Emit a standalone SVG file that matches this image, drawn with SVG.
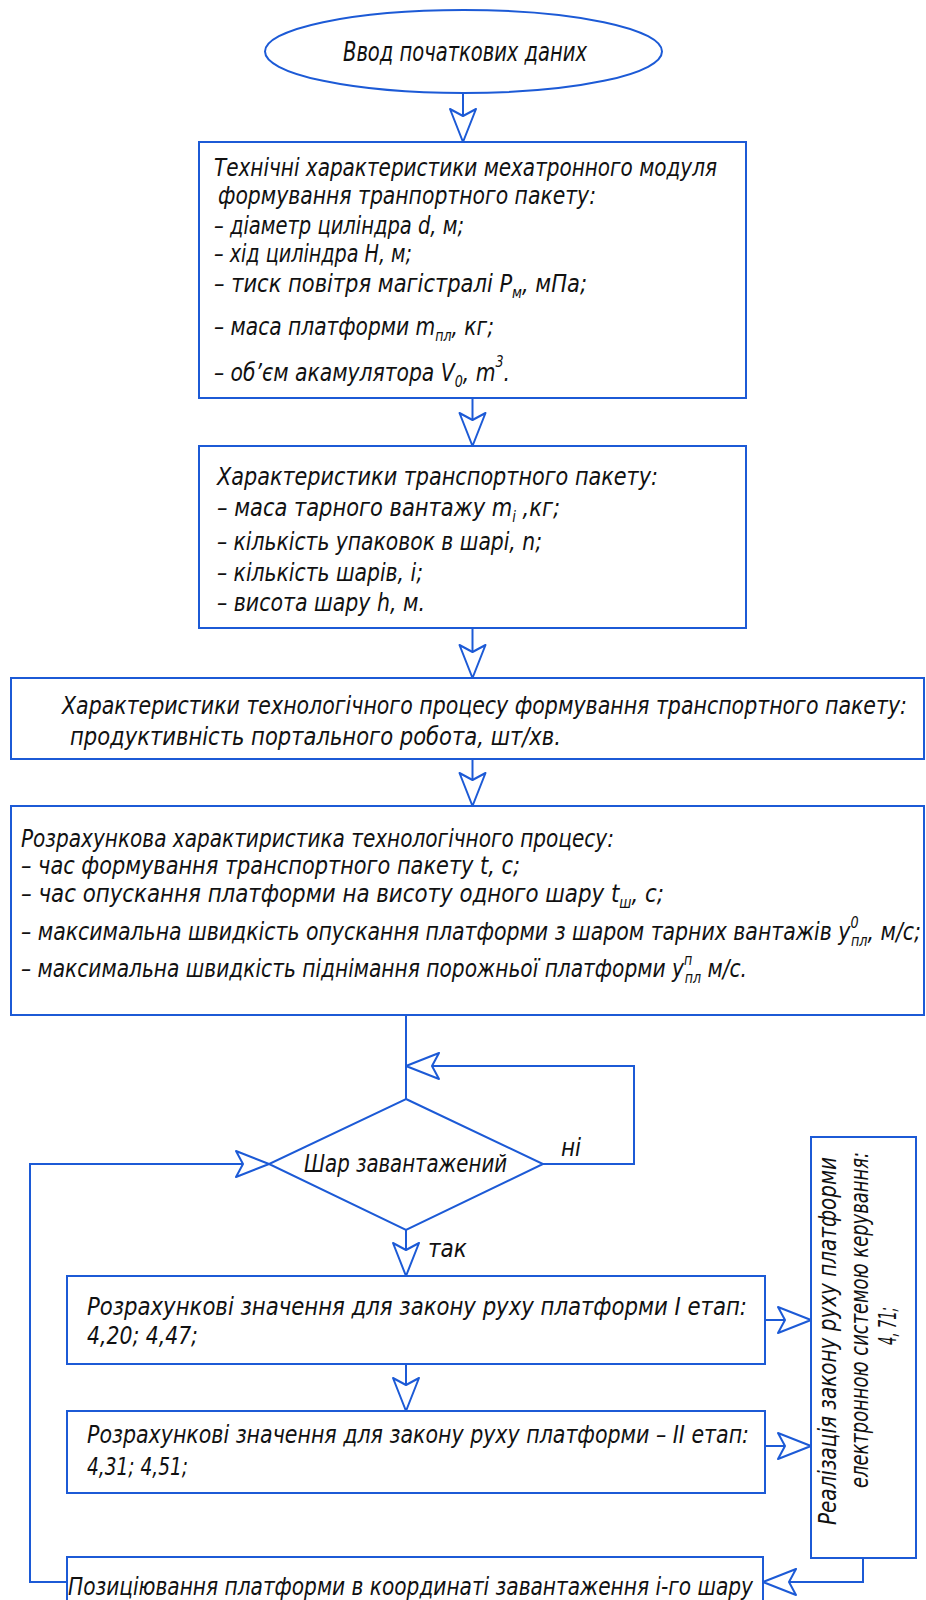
<svg xmlns="http://www.w3.org/2000/svg" width="926" height="1600" viewBox="0 0 926 1600">
  <style>
    .shape { fill: #ffffff; stroke: #1c5ad6; stroke-width: 2; }
    .wire { fill: none; stroke: #1c5ad6; stroke-width: 2; }
    .arrow { fill: none; stroke: #1c5ad6; stroke-width: 2; marker-end: url(#ah); }
    text { font-family: "DejaVu Sans Condensed", "Liberation Sans Narrow", "DejaVu Sans", "Liberation Sans", sans-serif; font-stretch: condensed; font-style: italic; font-size: 24px; fill: #111111; }
    .big { font-size: 26px; }
    .sm { font-size: 15px; }
  </style>
  <defs>
    <marker id="ah" markerUnits="userSpaceOnUse" viewBox="-36 -16 38 32" refX="0" refY="0" markerWidth="38" markerHeight="32" orient="auto">
      <path d="M0,0 L-33,-13 L-26,0 L-33,13 Z" fill="#ffffff" stroke="#1c5ad6" stroke-width="2" stroke-linejoin="round"/>
    </marker>
  </defs>

  <!-- connectors -->
  <g id="connectors">
    <line class="arrow" x1="463" y1="93" x2="463" y2="142"/>
    <line class="arrow" x1="472.5" y1="398" x2="472.5" y2="446"/>
    <line class="arrow" x1="472.5" y1="628" x2="472.5" y2="678"/>
    <line class="arrow" x1="472.5" y1="759" x2="472.5" y2="806"/>
    <line class="wire" x1="406" y1="1015" x2="406" y2="1099"/>
    <polyline class="arrow" points="543,1164 634,1164 634,1066 406,1066"/>
    <polyline class="arrow" points="67,1582 30,1582 30,1164 269,1164"/>
    <line class="arrow" x1="406" y1="1230" x2="406" y2="1276"/>
    <line class="arrow" x1="406" y1="1364" x2="406" y2="1411"/>
    <line class="arrow" x1="765" y1="1320" x2="811" y2="1320"/>
    <line class="arrow" x1="765" y1="1446" x2="811" y2="1446"/>
    <polyline class="arrow" points="863,1558 863,1582 763,1582"/>
  </g>

  <!-- start -->
  <g id="start">
    <ellipse class="shape" cx="463.5" cy="51.5" rx="198.5" ry="41.5"/>
    <text class="big" x="343" y="61" textLength="244" lengthAdjust="spacingAndGlyphs">Ввод початкових даних</text>
  </g>

  <!-- module characteristics -->
  <g id="module">
    <rect class="shape" x="199" y="142" width="547" height="256"/>
    <text x="214" y="176" textLength="503" lengthAdjust="spacingAndGlyphs">Технічні характеристики мехатронного модуля</text>
    <text x="218" y="204" textLength="378" lengthAdjust="spacingAndGlyphs">формування транпортного пакету:</text>
    <text x="214" y="234" textLength="250" lengthAdjust="spacingAndGlyphs">– діаметр циліндра d, м;</text>
    <text x="214" y="262" textLength="198" lengthAdjust="spacingAndGlyphs">– хід циліндра H, м;</text>
    <text x="214" y="292" textLength="373" lengthAdjust="spacingAndGlyphs">– тиск повітря магістралі P<tspan class="sm" dy="6">м</tspan><tspan dy="-6">, мПа;</tspan></text>
    <text x="214" y="335" textLength="280" lengthAdjust="spacingAndGlyphs">– маса платформи m<tspan class="sm" dy="6">пл</tspan><tspan dy="-6">, кг;</tspan></text>
    <text x="214" y="381" textLength="296" lengthAdjust="spacingAndGlyphs">– об’єм акамулятора V<tspan class="sm" dy="6">0</tspan><tspan dy="-6">, m</tspan><tspan class="sm" dy="-14">3</tspan><tspan dy="14">.</tspan></text>
  </g>

  <!-- package characteristics -->
  <g id="package">
    <rect class="shape" x="199" y="446" width="547" height="182"/>
    <text x="217" y="485" textLength="441" lengthAdjust="spacingAndGlyphs">Характеристики транспортного пакету:</text>
    <text x="217" y="516" textLength="343" lengthAdjust="spacingAndGlyphs">– маса тарного вантажу m<tspan class="sm" dy="6">i</tspan><tspan dy="-6"> ,кг;</tspan></text>
    <text x="217" y="550" textLength="325" lengthAdjust="spacingAndGlyphs">– кількість упаковок в шарі, n;</text>
    <text x="217" y="581" textLength="206" lengthAdjust="spacingAndGlyphs">– кількість шарів, i;</text>
    <text x="217" y="611" textLength="208" lengthAdjust="spacingAndGlyphs">– висота шару h, м.</text>
  </g>

  <!-- process characteristics -->
  <g id="process">
    <rect class="shape" x="11" y="678" width="913" height="81"/>
    <text x="62" y="714" textLength="845" lengthAdjust="spacingAndGlyphs">Характеристики технологічного процесу формування транспортного пакету:</text>
    <text x="70" y="745" textLength="491" lengthAdjust="spacingAndGlyphs">продуктивність портального робота, шт/хв.</text>
  </g>

  <!-- computed characteristics -->
  <g id="computed">
    <rect class="shape" x="11" y="806" width="913" height="209"/>
    <text x="21" y="847" textLength="593" lengthAdjust="spacingAndGlyphs">Розрахункова характиристика технологічного процесу:</text>
    <text x="21" y="874" textLength="499" lengthAdjust="spacingAndGlyphs">– час формування транспортного пакету t, с;</text>
    <text x="21" y="902" textLength="643" lengthAdjust="spacingAndGlyphs">– час опускання платформи на висоту одного шару t<tspan class="sm" dy="6">ш</tspan><tspan dy="-6">, с;</tspan></text>
    <text x="21" y="940" textLength="900" lengthAdjust="spacingAndGlyphs">– максимальна швидкість опускання платформи з шаром тарних вантажів y<tspan class="sm" dy="-12">0</tspan><tspan class="sm" dx="-8" dy="18">пл</tspan><tspan dy="-6">, м/с;</tspan></text>
    <text x="21" y="977" textLength="726" lengthAdjust="spacingAndGlyphs">– максимальна швидкість піднімання порожньої платформи y<tspan class="sm" dy="-12">п</tspan><tspan class="sm" dx="-8" dy="18">пл</tspan><tspan dy="-6"> м/с.</tspan></text>
  </g>

  <!-- decision -->
  <g id="decision">
    <polygon class="shape" points="406,1099 543,1164 406,1230 269,1164"/>
    <text x="304" y="1172" textLength="203" lengthAdjust="spacingAndGlyphs">Шар завантажений</text>
    <text x="561" y="1156">ні</text>
    <text x="428" y="1257">так</text>
  </g>

  <!-- stage I -->
  <g id="stage1">
    <rect class="shape" x="67" y="1276" width="698" height="88"/>
    <text x="87" y="1315" textLength="660" lengthAdjust="spacingAndGlyphs">Розрахункові значення для закону руху платформи I етап:</text>
    <text x="87" y="1344" textLength="111" lengthAdjust="spacingAndGlyphs">4,20; 4,47;</text>
  </g>

  <!-- stage II -->
  <g id="stage2">
    <rect class="shape" x="67" y="1411" width="698" height="82"/>
    <text x="87" y="1443" textLength="662" lengthAdjust="spacingAndGlyphs">Розрахункові значення для закону руху платформи – II етап:</text>
    <text x="87" y="1475" textLength="101" lengthAdjust="spacingAndGlyphs">4,31; 4,51;</text>
  </g>

  <!-- control law -->
  <g id="control">
    <rect class="shape" x="811" y="1137" width="105" height="421"/>
    <text transform="translate(836,1525) rotate(-90)" textLength="368" lengthAdjust="spacingAndGlyphs">Реалізація закону руху платформи</text>
    <text transform="translate(868,1488) rotate(-90)" textLength="336" lengthAdjust="spacingAndGlyphs">електронною системою керування:</text>
    <text transform="translate(896,1345) rotate(-90)" textLength="38" lengthAdjust="spacingAndGlyphs">4, 71;</text>
  </g>

  <!-- positioning -->
  <g id="positioning">
    <rect class="shape" x="67" y="1557" width="696" height="70"/>
    <text x="68" y="1595" textLength="685" lengthAdjust="spacingAndGlyphs">Позиціювання платформи в координаті завантаження і-го шару</text>
  </g>
</svg>
